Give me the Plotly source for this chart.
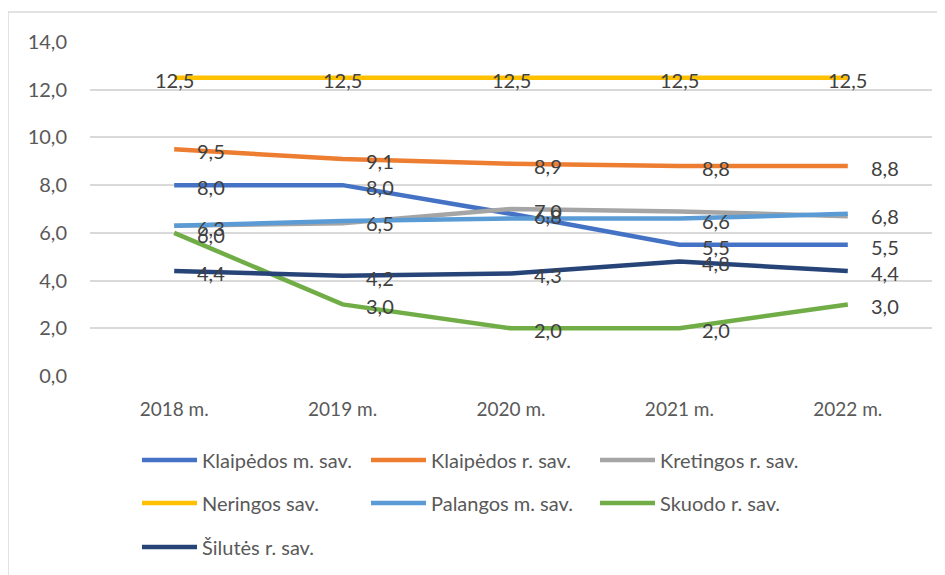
import plotly.graph_objects as go

years = ["2018 m.", "2019 m.", "2020 m.", "2021 m.", "2022 m."]

klaipedos_m = [8.0, 8.0, 6.8, 5.5, 5.5]
klaipedos_r = [9.5, 9.1, 8.9, 8.8, 8.8]
kretingos_r = [6.3, 6.4, 7.0, 6.9, 6.7]
neringos = [12.5, 12.5, 12.5, 12.5, 12.5]
palangos_m = [6.3, 6.5, 6.6, 6.6, 6.8]
skuodo_r = [6.0, 3.0, 2.0, 2.0, 3.0]
silutes_r = [4.4, 4.2, 4.3, 4.8, 4.4]

series_names = ["Klaipėdos m. sav.", "Klaipėdos r. sav.", "Kretingos r. sav.",
                "Neringos sav.", "Palangos m. sav.", "Skuodo r. sav.", "Šilutės r. sav."]
series_values = [klaipedos_m, klaipedos_r, kretingos_r, neringos, palangos_m, skuodo_r, silutes_r]
colors = ["#4472C4", "#ED7D31", "#A5A5A5", "#FFC000", "#5B9BD5", "#70AD47", "#264478"]
# which points carry a visible data label in the reference
label_shown = [
    [1, 1, 1, 1, 1],
    [1, 1, 1, 1, 1],
    [0, 0, 1, 0, 0],
    [1, 1, 1, 1, 1],
    [1, 1, 0, 1, 1],
    [1, 1, 1, 1, 1],
    [1, 1, 1, 1, 1],
]
label_center = [False, False, False, True, False, False, False]
legend_rows = ["legend", "legend", "legend", "legend2", "legend2", "legend2", "legend3"]

FONT = "Lato, Open Sans, sans-serif"
fig = go.Figure()
annotations = []
for name, vals, col, shown, centered, lg in zip(series_names, series_values, colors,
                                               label_shown, label_center, legend_rows):
    fig.add_trace(go.Scatter(x=years, y=vals, name=name, mode="lines",
                             line=dict(color=col, width=4.5), legend=lg,
                             hoverinfo="skip"))
    for x, v, s in zip(years, vals, shown):
        if s:
            annotations.append(dict(
                x=x, y=v, xref="x", yref="y", showarrow=False,
                text=f"{v:.1f}".replace(".", ","),
                xanchor="center" if centered else "left",
                xshift=0 if centered else 21, yshift=-2,
                font=dict(family=FONT, size=20, color="#404040")))

# page body has an 8px margin: figure origin sits at page (8, 8)
OFF = 8
PL, PR, PT, PB = 90 - OFF, 932 - OFF, 42 - OFF, 376 - OFF
PW, PH = PR - PL, PB - PT

def px_x(page_x):
    return (page_x - OFF - PL) / PW

def px_y(page_y):
    return (PB - (page_y - OFF)) / PH

# outer chart border
shapes = [dict(type="rect", xref="paper", yref="paper",
               x0=px_x(8), x1=px_x(940), y0=px_y(590), y1=px_y(12),
               line=dict(color="#D9D9D9", width=1.5), fillcolor="rgba(0,0,0,0)",
               layer="below")]

legend_common = dict(orientation="h", font=dict(family=FONT, size=20, color="#595959"),
                     entrywidth=159, entrywidthmode="pixels", bgcolor="rgba(0,0,0,0)",
                     itemwidth=55, xref="container", yref="container",
                     xanchor="left", yanchor="middle", itemclick=False, itemdoubleclick=False)

def cx(page_x):
    return (page_x - OFF) / 945

def cy(page_y):
    return (575 - (page_y - OFF)) / 575

fig.update_layout(
    width=945, height=575,
    margin=dict(l=PL, r=945 - PR, t=PT, b=575 - PB, autoexpand=False),
    paper_bgcolor="white", plot_bgcolor="white",
    separators=", ",
    showlegend=True,
    legend=dict(**legend_common, x=cx(137), y=cy(460)),
    legend2=dict(**legend_common, x=cx(137), y=cy(503)),
    legend3=dict(**legend_common, x=cx(137), y=cy(547)),
    xaxis=dict(showgrid=False, showline=False, zeroline=False, ticks="",
               range=[-0.5, 4.5],
               tickfont=dict(family=FONT, size=19, color="#595959"),
               ticklabelstandoff=20, fixedrange=True),
    yaxis=dict(range=[0, 14], dtick=2, tickformat=".1f", showgrid=True,
               gridcolor="#D9D9D9", gridwidth=1.5, zeroline=False, showline=False,
               tickfont=dict(family=FONT, size=20, color="#595959"),
               ticklabelstandoff=22, fixedrange=True),
    annotations=annotations,
    shapes=shapes,
)

fig.write_html("out.html")
